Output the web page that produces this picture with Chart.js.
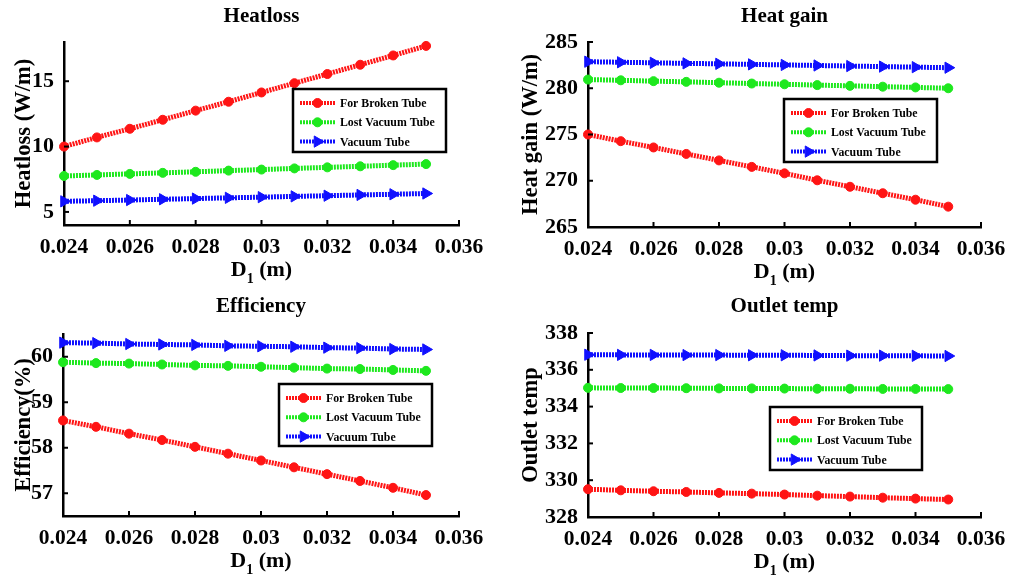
<!DOCTYPE html>
<html>
<head>
<meta charset="utf-8">
<script src="https://cdn.jsdelivr.net/npm/chart.js@4.4.1/dist/chart.umd.min.js"></script>
<style>
  html, body { margin: 0; padding: 0; background: #fff; }
  #wrap { position: relative; width: 1010px; height: 582px; overflow: hidden; }
  canvas { position: absolute; }
</style>
</head>
<body>
<div id="wrap">
  <canvas id="c1" width="505" height="290" style="left:0;top:0"></canvas>
  <canvas id="c2" width="505" height="290" style="left:505px;top:0"></canvas>
  <canvas id="c3" width="505" height="292" style="left:0;top:290px"></canvas>
  <canvas id="c4" width="505" height="292" style="left:505px;top:290px"></canvas>
</div>
<script>
// Inner tube diameter D1 (m)
const diameters = [0.024, 0.025, 0.026, 0.027, 0.028, 0.029, 0.030, 0.031, 0.032, 0.033, 0.034, 0.035];
const xTickValues = [0.024, 0.026, 0.028, 0.030, 0.032, 0.034, 0.036];
const xTickLabels = ['0.024', '0.026', '0.028', '0.03', '0.032', '0.034', '0.036'];
const seriesNames = ['For Broken Tube', 'Lost Vacuum Tube', 'Vacuum Tube'];

// Heat loss (W/m)
const heatlossBroken = [10.00, 10.70, 11.36, 12.05, 12.75, 13.43, 14.14, 14.85, 15.55, 16.26, 16.97, 17.70];
const heatlossLost   = [7.75, 7.83, 7.91, 7.99, 8.07, 8.16, 8.24, 8.33, 8.41, 8.49, 8.58, 8.66];
const heatlossVacuum = [5.81, 5.86, 5.91, 5.97, 6.02, 6.08, 6.13, 6.19, 6.24, 6.30, 6.35, 6.41];
const heatlossTicks  = [5, 10, 15];

// Heat gain (W/m)
const heatGainBroken = [275.00, 274.28, 273.60, 272.90, 272.20, 271.50, 270.80, 270.05, 269.35, 268.65, 267.95, 267.20];
const heatGainLost   = [280.94, 280.86, 280.77, 280.69, 280.60, 280.51, 280.43, 280.34, 280.26, 280.17, 280.09, 280.00];
const heatGainVacuum = [282.87, 282.81, 282.75, 282.69, 282.64, 282.58, 282.52, 282.46, 282.40, 282.34, 282.28, 282.22];
const heatGainTicks  = [265, 270, 275, 280, 285];

// Efficiency (%)
const effBroken = [58.60, 58.46, 58.31, 58.17, 58.02, 57.87, 57.72, 57.57, 57.42, 57.27, 57.12, 56.96];
const effLost   = [59.88, 59.86, 59.85, 59.83, 59.81, 59.80, 59.78, 59.76, 59.74, 59.73, 59.71, 59.69];
const effVacuum = [60.31, 60.30, 60.28, 60.27, 60.26, 60.24, 60.23, 60.22, 60.20, 60.19, 60.17, 60.16];
const effTicks  = [57, 58, 59, 60];

// Outlet temperature
const outletBroken = [329.51, 329.45, 329.40, 329.36, 329.31, 329.27, 329.22, 329.16, 329.11, 329.05, 329.00, 328.95];
const outletLost   = [335.02, 335.01, 335.01, 335.00, 334.99, 334.99, 334.98, 334.97, 334.97, 334.96, 334.96, 334.95];
const outletVacuum = [336.82, 336.81, 336.81, 336.80, 336.80, 336.79, 336.79, 336.78, 336.77, 336.77, 336.76, 336.75];
const outletTicks  = [328, 330, 332, 334, 336, 338];

const FONT = "'Liberation Serif', 'Times New Roman', serif";
const seriesStyles = [
  { color: '#ff1414', pointStyle: 'circle',   radius: 4.5, rotation: 0 },
  { color: '#1ee81e', pointStyle: 'circle',   radius: 4.5, rotation: 0 },
  { color: '#1010ff', pointStyle: 'triangle', radius: 6.5, rotation: 90 }
];

function makeDatasets(seriesValues) {
  return seriesValues.map((vals, i) => {
    const st = seriesStyles[i];
    return {
      label: seriesNames[i],
      data: diameters.map((d, k) => ({ x: d, y: vals[k] })),
      borderColor: st.color,
      backgroundColor: st.color,
      borderWidth: 5,
      borderDash: [2, 1],
      pointStyle: st.pointStyle,
      pointRotation: st.rotation,
      pointRadius: st.radius,
      pointBorderWidth: 1,
      pointBackgroundColor: st.color,
      pointBorderColor: st.color,
      clip: false,
      tension: 0
    };
  });
}

// MATLAB-like decorations: inward ticks, subscripted x label, boxed legend
const matlabAxes = {
  id: 'matlabAxes',
  afterDraw(chart, args, opts) {
    const ctx = chart.ctx;
    const area = chart.chartArea;
    const xs = chart.scales.x, ys = chart.scales.y;
    ctx.save();
    ctx.strokeStyle = '#000';
    ctx.lineWidth = 2;
    ctx.setLineDash([]);
    xTickValues.forEach(v => {
      const px = xs.getPixelForValue(v);
      ctx.beginPath(); ctx.moveTo(px, area.bottom); ctx.lineTo(px, area.bottom - 5); ctx.stroke();
    });
    opts.yTicks.forEach(v => {
      const py = ys.getPixelForValue(v);
      ctx.beginPath(); ctx.moveTo(area.left, py); ctx.lineTo(area.left + 5, py); ctx.stroke();
    });

    // x-axis title: D with subscript 1
    ctx.fillStyle = '#000';
    ctx.textBaseline = 'alphabetic';
    const big = 'bold 22px ' + FONT, small = 'bold 14px ' + FONT;
    ctx.font = big; const wD = ctx.measureText('D').width; const wRest = ctx.measureText(' (m)').width;
    ctx.font = small; const wSub = ctx.measureText('1').width;
    let tx = (area.left + area.right) / 2 - (wD + wSub + wRest) / 2;
    const ty = area.bottom + opts.xTitleOffset;
    ctx.font = big; ctx.textAlign = 'left'; ctx.fillText('D', tx, ty); tx += wD;
    ctx.font = small; ctx.fillText('1', tx, ty + 7); tx += wSub;
    ctx.font = big; ctx.fillText(' (m)', tx, ty);

    // legend box
    const lb = opts.legend;
    ctx.lineWidth = 2.5;
    ctx.strokeStyle = '#000';
    ctx.fillStyle = '#fff';
    ctx.fillRect(lb.left, lb.top, lb.width, lb.height);
    ctx.strokeRect(lb.left, lb.top, lb.width, lb.height);
    ctx.font = 'bold 11.8px ' + FONT;
    ctx.textBaseline = 'middle';
    chart.data.datasets.forEach((ds, i) => {
      const cy = lb.top + 14 + i * 19.3;
      const x0 = lb.left + 7, x1 = lb.left + 42;
      ctx.strokeStyle = ds.borderColor;
      ctx.lineWidth = 4;
      ctx.setLineDash([2, 1]);
      ctx.beginPath(); ctx.moveTo(x0, cy); ctx.lineTo(x1, cy); ctx.stroke();
      ctx.setLineDash([]);
      ctx.fillStyle = ds.backgroundColor;
      ctx.strokeStyle = ds.borderColor;
      ctx.lineWidth = 1;
      Chart.helpers.drawPoint(ctx, {
        pointStyle: ds.pointStyle, rotation: ds.pointRotation,
        radius: ds.pointRadius, borderWidth: 1
      }, (x0 + x1) / 2, cy);
      ctx.fillStyle = '#000';
      ctx.fillText(ds.label, lb.left + 47, cy + 1);
    });
    ctx.restore();
  }
};

function makeChart(id, cfg) {
  const canvas = document.getElementById(id);
  const W = canvas.width, H = canvas.height;
  const a = cfg.area;
  const titleLH = 25;
  return new Chart(canvas, {
    type: 'line',
    data: { datasets: makeDatasets(cfg.series) },
    plugins: [matlabAxes],
    options: {
      responsive: false,
      animation: false,
      devicePixelRatio: 1,
      layout: { padding: { left: 0, right: W - a.right, top: 0, bottom: 0 } },
      plugins: {
        legend: { display: false },
        tooltip: { enabled: false },
        title: {
          display: true, text: cfg.title, fullSize: false, color: '#000',
          font: { family: FONT, size: 21, weight: 'bold', lineHeight: titleLH / 21 },
          padding: { top: 4, bottom: a.top - 4 - titleLH }
        },
        matlabAxes: { yTicks: cfg.yTicks, legend: cfg.legend, xTitleOffset: 51 }
      },
      scales: {
        x: {
          type: 'linear', min: 0.024, max: 0.036,
          afterBuildTicks: s => { s.ticks = xTickValues.map(v => ({ value: v })); },
          afterFit: s => { s.height = H - a.bottom; },
          ticks: {
            callback: (v, i) => xTickLabels[i],
            color: '#000', padding: 2, maxRotation: 0, autoSkip: false,
            font: { family: FONT, size: 21.5, weight: 'bold' }
          },
          grid: { display: false },
          border: { display: true, color: '#000', width: 2.5 }
        },
        y: {
          type: 'linear', min: cfg.yMin, max: cfg.yMax,
          afterBuildTicks: s => { s.ticks = cfg.yTicks.map(v => ({ value: v })); },
          afterFit: s => { s.width = a.left; },
          ticks: {
            color: '#000', padding: 2,
            font: { family: FONT, size: 22, weight: 'bold' }
          },
          title: {
            display: true, text: cfg.yTitle, color: '#000',
            font: { family: FONT, size: 22.5, weight: 'bold' },
            padding: { top: cfg.yTitlePad, bottom: 0 }
          },
          grid: { display: false },
          border: { display: true, color: '#000', width: 2.5 }
        }
      }
    }
  });
}

makeChart('c1', {
  title: 'Heatloss', yTitle: 'Heatloss (W/m)', yTitlePad: 11,
  series: [heatlossBroken, heatlossLost, heatlossVacuum],
  yMin: 4, yMax: 18, yTicks: heatlossTicks,
  area: { left: 64, right: 459, top: 42, bottom: 225 },
  legend: { left: 293, top: 89, width: 153, height: 63 }
});
makeChart('c2', {
  title: 'Heat gain', yTitle: 'Heat gain (W/m)', yTitlePad: 13,
  series: [heatGainBroken, heatGainLost, heatGainVacuum],
  yMin: 265, yMax: 285, yTicks: heatGainTicks,
  area: { left: 83, right: 476, top: 42, bottom: 227 },
  legend: { left: 279, top: 99, width: 153, height: 63 }
});
makeChart('c3', {
  title: 'Efficiency', yTitle: 'Efficiency(%)', yTitlePad: 11,
  series: [effBroken, effLost, effVacuum],
  yMin: 56.5, yMax: 60.5, yTicks: effTicks,
  area: { left: 63, right: 459, top: 44, bottom: 226 },
  legend: { left: 279, top: 94, width: 153, height: 62 }
});
makeChart('c4', {
  title: 'Outlet temp', yTitle: 'Outlet temp', yTitlePad: 13,
  series: [outletBroken, outletLost, outletVacuum],
  yMin: 328, yMax: 338, yTicks: outletTicks,
  area: { left: 83, right: 476, top: 43, bottom: 227 },
  legend: { left: 265, top: 117, width: 152, height: 63 }
});
</script>
</body>
</html>
